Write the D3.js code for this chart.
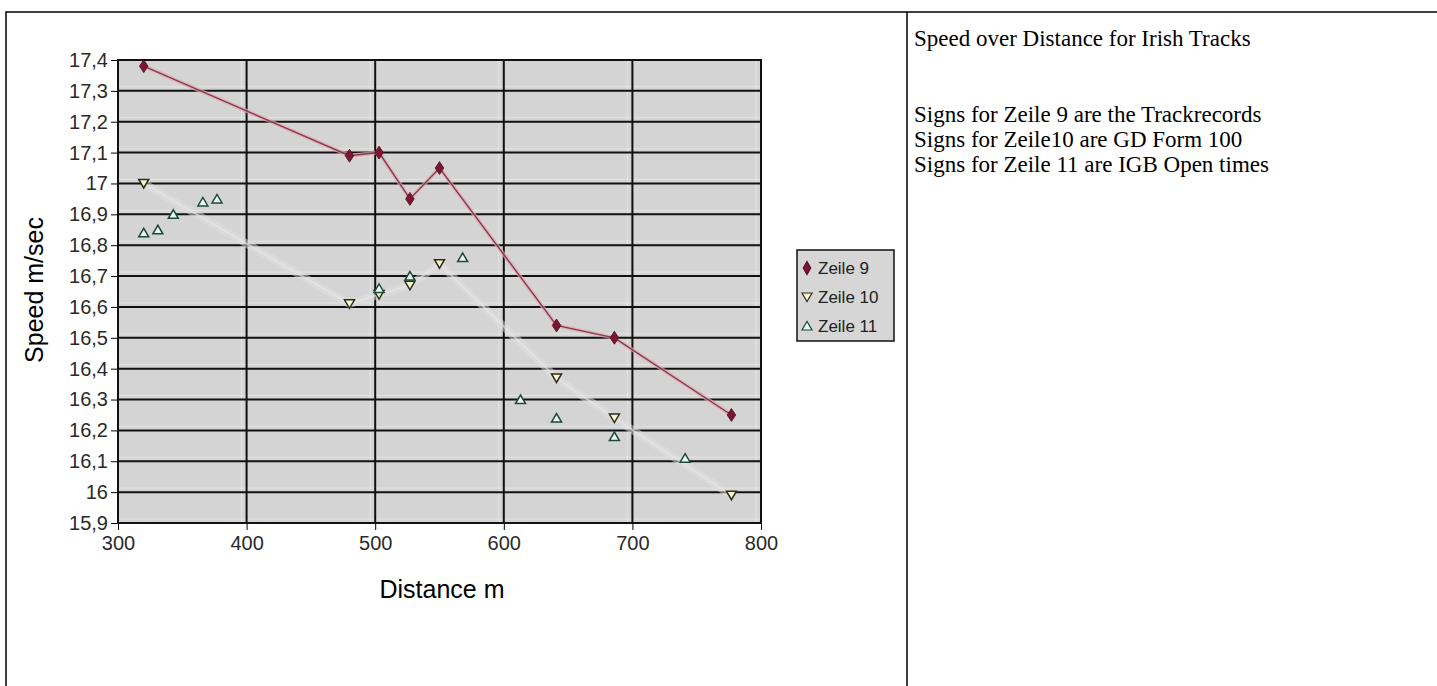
<!DOCTYPE html>
<html>
<head>
<meta charset="utf-8">
<script src="https://cdn.jsdelivr.net/npm/d3@7"></script>
<style>
  body { margin: 0; background: #fff; }
  .tick text { font-family: "Liberation Sans", Arial, sans-serif; }
</style>
</head>
<body>
<svg id="chart"></svg>
<script>
// data
var zeile9Dist = [320, 480, 503, 527, 550, 641, 686, 777]
var zeile9Speed = [17.38, 17.09, 17.10, 16.95, 17.05, 16.54, 16.50, 16.25]
var zeile10Dist = [320, 480, 503, 527, 550, 641, 686, 777]
var zeile10Speed = [17.00, 16.61, 16.64, 16.67, 16.74, 16.37, 16.24, 15.99]
var zeile11Dist = [320, 331, 343, 366, 377, 503, 527, 568, 613, 641, 686, 741]
var zeile11Speed = [16.84, 16.85, 16.90, 16.94, 16.95, 16.66, 16.70, 16.76, 16.30, 16.24, 16.18, 16.11]
var xTicks = [300, 400, 500, 600, 700, 800]
var yTicks = [15.9, 16, 16.1, 16.2, 16.3, 16.4, 16.5, 16.6, 16.7, 16.8, 16.9, 17, 17.1, 17.2, 17.3, 17.4]
var seriesNames = ['Zeile 9', 'Zeile 10', 'Zeile 11']
var noteLines = ['Speed over Distance for Irish Tracks', '', '',
  'Signs for Zeile 9 are the Trackrecords',
  'Signs for Zeile10 are GD Form 100',
  'Signs for Zeile 11 are IGB Open times']

var W = 1437, H = 686
var margin = { top: 60, left: 118 },
  width = 761 - 118,
  height = 523 - 60

var svg = d3.select('#chart').attr('width', W).attr('height', H)

// outer table lines
svg.append('path')
  .attr('d', `M6,${H} V12 H${W} M907,12 V${H}`)
  .attr('fill', 'none').attr('stroke', '#000').attr('stroke-width', 1.5)

var x_scale = d3.scaleLinear().domain([300, 800]).range([0, width])
var y_scale = d3.scaleLinear().domain([15.9, 17.4]).range([height, 0])
var fmt = d => String(d).replace('.', ',')

var g = svg.append('g').attr('transform', `translate(${margin.left},${margin.top})`)

g.append('rect').attr('width', width).attr('height', height).attr('fill', '#d4d4d4')

// faint light lines beside the grid (the scan shows doubled grid)
g.selectAll('.hl').data(yTicks.slice(0, -1)).join('line').attr('class', 'hl')
  .attr('x1', 0).attr('x2', width)
  .attr('y1', d => y_scale(d) - 4).attr('y2', d => y_scale(d) - 4)
  .attr('stroke', '#e4e4e4').attr('stroke-width', 1)
g.selectAll('.vl').data(xTicks.slice(1)).join('line').attr('class', 'vl')
  .attr('y1', 0).attr('y2', height)
  .attr('x1', d => x_scale(d) - 5).attr('x2', d => x_scale(d) - 5)
  .attr('stroke', '#e4e4e4').attr('stroke-width', 1)

// axes with grid
var yAxis = g.append('g').call(d3.axisLeft(y_scale).tickValues(yTicks).tickFormat(fmt).tickSize(7).tickPadding(3))
yAxis.selectAll('text').style('font-size', '20px').attr('fill', '#2a2a2a')
yAxis.select('.domain').remove()
var xAxis = g.append('g').attr('transform', `translate(0,${height})`)
  .call(d3.axisBottom(x_scale).tickValues(xTicks).tickSize(7).tickPadding(6))
xAxis.selectAll('text').style('font-size', '20px').attr('fill', '#2a2a2a')
xAxis.select('.domain').remove()

g.append('g').selectAll('line').data(yTicks).join('line')
  .attr('x1', 0).attr('x2', width)
  .attr('y1', d => y_scale(d)).attr('y2', d => y_scale(d))
  .attr('stroke', '#111').attr('stroke-width', 2)
g.append('g').selectAll('line').data(xTicks).join('line')
  .attr('y1', 0).attr('y2', height)
  .attr('x1', d => x_scale(d)).attr('x2', d => x_scale(d))
  .attr('stroke', '#111').attr('stroke-width', 2)

var lineGen = d3.line().x(d => x_scale(d[0])).y(d => y_scale(d[1]))

// Zeile 10 is joined by a very pale line
var z10 = zeile10Dist.map((d, i) => [d, zeile10Speed[i]])
g.append('path').datum(z10).attr('d', lineGen)
  .attr('fill', 'none').attr('stroke', '#e0e0e0').attr('stroke-width', 8).attr('opacity', 0.5)
g.append('path').datum(z10).attr('d', lineGen)
  .attr('fill', 'none').attr('stroke', '#e8e8e8').attr('stroke-width', 2).attr('opacity', 0.6)

// Zeile 9 line + diamonds
var z9 = zeile9Dist.map((d, i) => [d, zeile9Speed[i]])
g.append('path').datum(z9).attr('d', lineGen)
  .attr('fill', 'none').attr('stroke', '#e0a6b2').attr('stroke-width', 4).attr('opacity', 0.7)
g.append('path').datum(z9).attr('d', lineGen)
  .attr('fill', 'none').attr('stroke', '#8a3a50').attr('stroke-width', 1.4)

var diamond = d3.symbol().type(d3.symbolDiamond).size(48)
var triDown = 'M-5,-4 L5,-4 L0,4.5 Z'
var triUp = 'M-5,4 L5,4 L0,-4.5 Z'

g.selectAll('.z9').data(z9).join('path').attr('class', 'z9')
  .attr('d', diamond)
  .attr('transform', d => `translate(${x_scale(d[0])},${y_scale(d[1])}) scale(1.15,1)`)
  .attr('fill', '#7a1634').attr('stroke', '#5a0e24').attr('stroke-width', 0.8)

g.selectAll('.z10').data(z10).join('path').attr('class', 'z10')
  .attr('d', triDown)
  .attr('transform', d => `translate(${x_scale(d[0])},${y_scale(d[1])})`)
  .attr('fill', '#fbf8c8').attr('stroke', '#2c2c1c').attr('stroke-width', 1.5)

g.selectAll('.z11').data(zeile11Dist.map((d, i) => [d, zeile11Speed[i]])).join('path').attr('class', 'z11')
  .attr('d', triUp)
  .attr('transform', d => `translate(${x_scale(d[0])},${y_scale(d[1])})`)
  .attr('fill', '#eef6f0').attr('stroke', '#1c4a3c').attr('stroke-width', 1.5)

// plot frame
g.append('path').attr('d', `M0,0 H${width} V${height} H0 Z`)
  .attr('fill', 'none').attr('stroke', '#111').attr('stroke-width', 2)

// axis titles
svg.append('text')
  .attr('transform', 'translate(43,290) rotate(-90)')
  .attr('text-anchor', 'middle')
  .style('font-family', '"Liberation Sans", Arial, sans-serif').style('font-size', '25px')
  .text('Speed m/sec')
svg.append('text')
  .attr('x', 442).attr('y', 598)
  .attr('text-anchor', 'middle')
  .style('font-family', '"Liberation Sans", Arial, sans-serif').style('font-size', '25px')
  .text('Distance m')

// legend
var legend = svg.append('g').attr('transform', 'translate(797,250)')
legend.append('rect').attr('width', 97).attr('height', 91)
  .attr('fill', '#d6d6d6').attr('stroke', '#111').attr('stroke-width', 1.5)
var marks = [diamond(), triDown, triUp],
  markFill = ['#7a1634', '#fbf8c8', '#eef6f0'],
  markStroke = ['#5a0e24', '#2c2c1c', '#1c4a3c']
var item = legend.selectAll('.legend').data(seriesNames).join('g')
  .attr('class', 'legend')
  .attr('transform', (d, i) => `translate(0, ${18 + i * 29})`)
item.append('path').attr('d', (d, i) => marks[i])
  .attr('transform', 'translate(10,0)')
  .attr('fill', (d, i) => markFill[i]).attr('stroke', (d, i) => markStroke[i]).attr('stroke-width', 1.2)
item.append('text').attr('x', 21).attr('y', 6)
  .style('font-family', '"Liberation Sans", Arial, sans-serif').style('font-size', '17px')
  .attr('fill', '#222')
  .text(d => d)

// notes on the right
svg.append('g').selectAll('text').data(noteLines).join('text')
  .attr('x', 914)
  .attr('y', (d, i) => i < 3 ? 46 + i * 25 : 122 + (i - 3) * 25)
  .style('font-family', '"Liberation Serif", "Times New Roman", serif')
  .style('font-size', '23px')
  .text(d => d)
</script>
</body>
</html>
